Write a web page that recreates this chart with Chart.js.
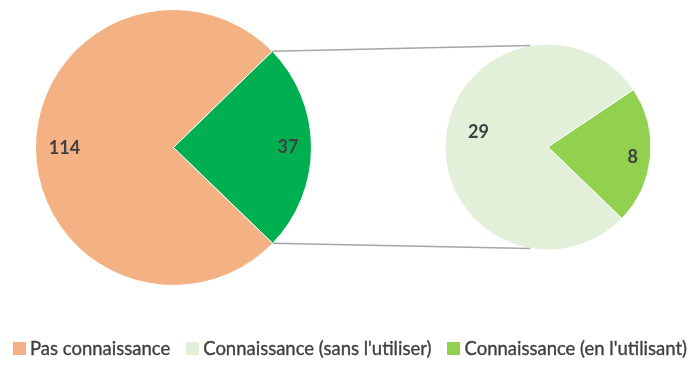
<!DOCTYPE html>
<html><head><meta charset="utf-8">
<script src="https://cdn.jsdelivr.net/npm/chart.js@4"></script>
<style>
html,body{margin:0;padding:0;background:#fff;width:700px;height:367px;overflow:hidden;position:relative;font-family:Lato,"Open Sans",sans-serif;}
#leftBox{position:absolute;left:35px;top:9px;width:277px;height:277px;}
#rightBox{position:absolute;left:445px;top:44px;width:206px;height:206px;}
#overlay{position:absolute;left:0;top:0;pointer-events:none;}
#legend{position:absolute;left:0;top:337px;width:700px;display:flex;justify-content:center;align-items:center;color:#404040;font-size:18.5px;-webkit-text-stroke:0.35px #404040;}
.item{display:flex;align-items:center;margin:0 8px;white-space:nowrap;}
.sw{width:13px;height:13px;margin-right:4px;}
</style></head>
<body>
<div id="leftBox"><canvas id="left"></canvas></div>
<div id="rightBox"><canvas id="right"></canvas></div>
<canvas id="overlay" width="700" height="367"></canvas>
<div id="legend"></div>
<script>
// ---- data ----
const mainLabels = ['Pas connaissance', 'Connaissance'];
const mainValues = [114, 37];
const subLabels = ["Connaissance (sans l'utiliser)", "Connaissance (en l'utilisant)"];
const subValues = [29, 8];
const legendLabels = ['Pas connaissance', "Connaissance (sans l'utiliser)", "Connaissance (en l'utilisant)"];

// ---- style ----
const mainColors = ['#F4B183', '#00B050'];
const subColors = ['#E2F0D9', '#92D050'];
const legendColors = ['#F4B183', '#E2F0D9', '#92D050'];

const labelPlugin = {
  id: 'sliceLabels',
  afterDatasetsDraw(chart, args, opts) {
    const ctx = chart.ctx;
    const meta = chart.getDatasetMeta(0);
    ctx.save();
    ctx.font = 'bold 18px Lato, "Open Sans", sans-serif';
    ctx.fillStyle = '#404040';
    ctx.textAlign = 'center';
    ctx.textBaseline = 'middle';
    meta.data.forEach((arc, i) => {
      const p = opts.place[i];
      const mid = (arc.startAngle + arc.endAngle) / 2 + p.da * Math.PI / 180;
      const r = arc.outerRadius * p.f;
      ctx.fillText(String(chart.data.datasets[0].data[i]), arc.x + Math.cos(mid) * r, arc.y + Math.sin(mid) * r);
    });
    ctx.restore();
  }
};

function pieOptions(radius, place) {
  return {
    responsive: true, maintainAspectRatio: false, animation: false,
    rotation: 134, radius: radius,
    layout: { padding: 0 },
    plugins: { legend: { display: false }, tooltip: { enabled: false }, sliceLabels: { place } },
    events: []
  };
}

const leftChart = new Chart(document.getElementById('left'), {
  type: 'pie',
  data: { labels: mainLabels, datasets: [{ data: mainValues, backgroundColor: mainColors, borderColor: '#ffffff', borderWidth: 1, hoverOffset: 0 }] },
  options: pieOptions(138, [{ f: 0.79, da: 0 }, { f: 0.83, da: 0 }]),
  plugins: [labelPlugin]
});

const rightChart = new Chart(document.getElementById('right'), {
  type: 'pie',
  data: { labels: subLabels, datasets: [{ data: subValues, backgroundColor: subColors, borderColor: '#ffffff', borderWidth: 1, hoverOffset: 0 }] },
  options: pieOptions(103, [{ f: 0.69, da: 7 }, { f: 0.83, da: 2 }]),
  plugins: [labelPlugin]
});

function drawConnectors() {
  const ov = document.getElementById('overlay');
  const ctx = ov.getContext('2d');
  ctx.clearRect(0, 0, 700, 367);
  const la = leftChart.getDatasetMeta(0).data[1];
  const ra = rightChart.getDatasetMeta(0).data[0];
  const lr = leftChart.canvas.getBoundingClientRect();
  const rr = rightChart.canvas.getBoundingClientRect();
  const lx = lr.left + la.x, ly = lr.top + la.y, R1 = la.outerRadius;
  const rx = rr.left + ra.x, ry = rr.top + ra.y, R2 = ra.outerRadius;
  const a1 = la.startAngle, a2 = la.endAngle;
  const t1 = -100 * Math.PI / 180, t2 = 100 * Math.PI / 180;
  ctx.strokeStyle = '#A6A6A6';
  ctx.lineWidth = 1.5;
  ctx.beginPath();
  ctx.moveTo(lx + Math.cos(a1) * R1, ly + Math.sin(a1) * R1);
  ctx.lineTo(rx + Math.cos(t1) * R2, ry + Math.sin(t1) * R2);
  ctx.moveTo(lx + Math.cos(a2) * R1, ly + Math.sin(a2) * R1);
  ctx.lineTo(rx + Math.cos(t2) * R2, ry + Math.sin(t2) * R2);
  ctx.stroke();
}
drawConnectors();

const lg = document.getElementById('legend');
legendLabels.forEach((t, i) => {
  const d = document.createElement('div'); d.className = 'item';
  const s = document.createElement('span'); s.className = 'sw'; s.style.background = legendColors[i];
  const x = document.createElement('span'); x.textContent = t;
  d.appendChild(s); d.appendChild(x); lg.appendChild(d);
});
</script>
</body></html>
